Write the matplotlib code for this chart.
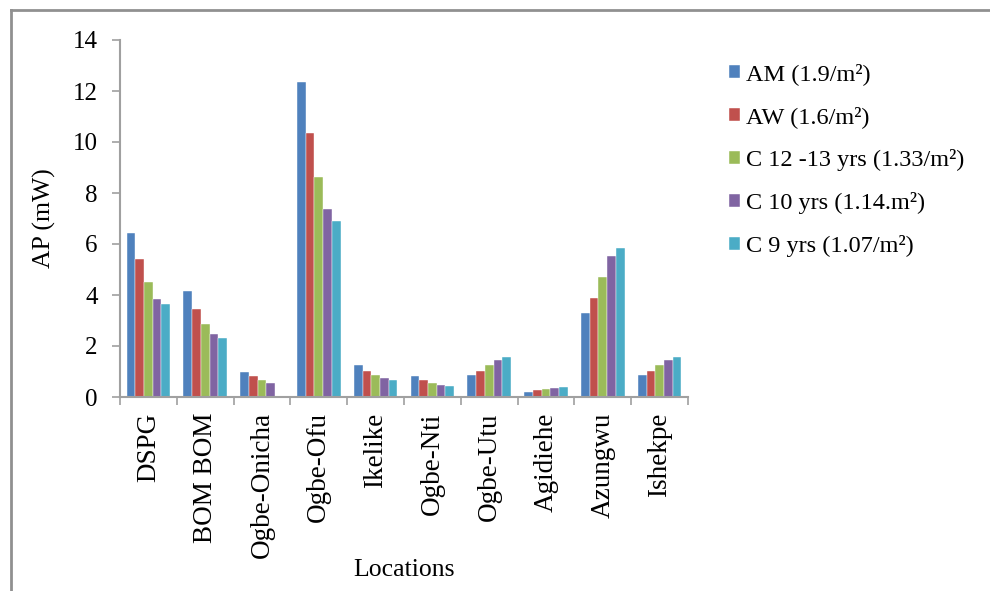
import matplotlib
matplotlib.use("Agg")
import matplotlib.pyplot as plt
import numpy as np
from matplotlib.lines import Line2D

plt.rcParams['font.family'] = ['Liberation Serif', 'DejaVu Serif']

locations = ["DSPG", "BOM BOM", "Ogbe-Onicha", "Ogbe-Ofu", "Ikelike",
             "Ogbe-Nti", "Ogbe-Utu", "Agidiehe", "Azungwu", "Ishekpe"]
series_names = ["AM (1.9/m²)", "AW (1.6/m²)", "C 12 -13 yrs (1.33/m²)",
                "C 10 yrs (1.14.m²)", "C 9 yrs (1.07/m²)"]
am  = [6.45, 4.14, 0.99, 12.34, 1.24, 0.81, 0.85, 0.21, 3.30, 0.85]
aw  = [5.43, 3.46, 0.82, 10.37, 1.03, 0.65, 1.03, 0.26, 3.90, 1.03]
c12 = [4.51, 2.86, 0.68, 8.64, 0.85, 0.56, 1.24, 0.30, 4.70, 1.24]
c10 = [3.85, 2.48, 0.56, 7.38, 0.73, 0.47, 1.45, 0.34, 5.51, 1.45]
c9  = [3.63, 2.30, 0.05, 6.91, 0.68, 0.43, 1.58, 0.39, 5.85, 1.58]
colors = ["#4F81BD", "#C0504D", "#9BBB59", "#8064A2", "#4BACC6"]
yticks = [0, 2, 4, 6, 8, 10, 12, 14]

fig = plt.figure(figsize=(9.9, 5.91), dpi=100)
ax = fig.add_axes([120/990, 1-397/591, (688-120)/990, (397-40)/591])

x = np.arange(len(locations))
bw = 0.153
data = [am, aw, c12, c10, c9]
for i, (vals, name, col) in enumerate(zip(data, series_names, colors)):
    ax.bar(x + (i - 2) * bw, vals, width=bw, color=col, label=name,
           edgecolor='white', linewidth=0.3)

ax.set_xlim(-0.5, len(locations) - 0.5)
ax.set_ylim(0, 14)
ax.set_yticks(yticks)
ax.set_yticklabels([str(t) for t in yticks], fontsize=18)
ax.set_xticks(x)
ax.set_xticklabels(locations, rotation=90, fontsize=19.5)
ax.set_xticks(np.arange(-0.5, len(locations)), minor=True)
ax.tick_params(axis='x', which='major', length=0, pad=11)
ax.tick_params(axis='x', which='minor', length=6, color='#a0a0a0', width=1.2)
ax.tick_params(axis='y', length=6, color='#a0a0a0', width=1.2, pad=10)
for s in ['top', 'right']:
    ax.spines[s].set_visible(False)
for s in ['left', 'bottom']:
    ax.spines[s].set_color('#a0a0a0')
    ax.spines[s].set_linewidth(1.5)

ax.set_ylabel("AP (mW)", fontsize=18.5, labelpad=12)
ax.set_xlabel("Locations", fontsize=18.5)
ax.xaxis.set_label_coords(0.5, -(570-397)/357, transform=ax.transAxes)
ax.xaxis.label.set_va('center')

leg = fig.legend(loc='upper left', bbox_to_anchor=(717/990, 1-51/591),
                 frameon=False, fontsize=17.5, handlelength=0.45, handleheight=0.45,
                 handletextpad=0.25, labelspacing=0.86, borderpad=0)

fig.add_artist(Line2D([11/990, 1], [1-10/591, 1-10/591], color='#909090', lw=2))
fig.add_artist(Line2D([11/990, 11/990], [0, 1-10/591], color='#909090', lw=2))

fig.savefig("out.png", dpi=100)
